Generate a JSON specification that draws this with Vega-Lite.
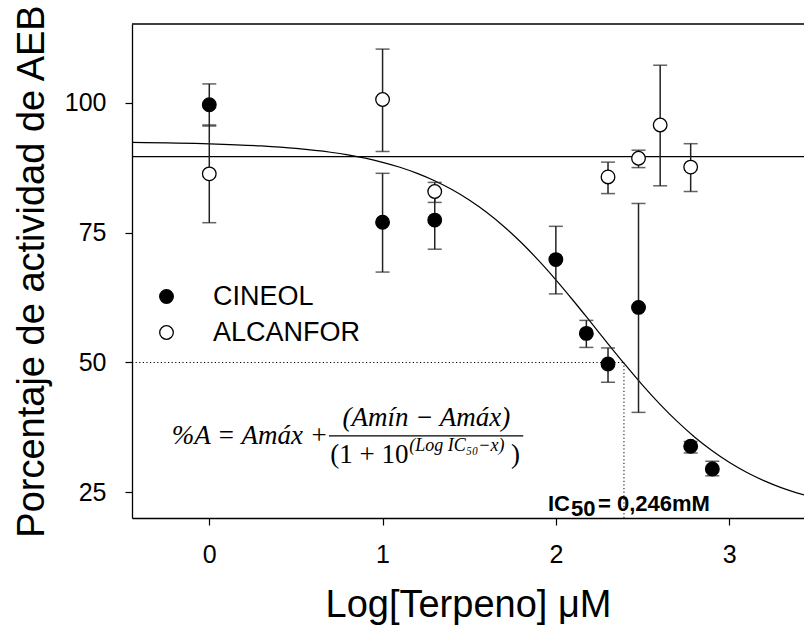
{
  "$schema": "https://vega.github.io/schema/vega-lite/v6.json",
  "width": 672,
  "height": 494,
  "autosize": {"type": "none"},
  "padding": {"left": 132, "top": 24, "right": 0, "bottom": 112},
  "background": "white",
  "config": {
    "view": {"stroke": null},
    "axis": {"titleFont": "Liberation Sans", "titleFontSize": 38, "titleFontWeight": "normal", "titleColor": "black",
             "labelFont": "Liberation Sans", "labelFontSize": 25, "labelColor": "black", "labelFlush": false,
             "tickSize": 7, "tickColor": "black", "tickWidth": 1.2, "domainColor": "black", "domainWidth": 1.3, "grid": false},
    "axisX": {"titlePadding": 19, "labelPadding": 17},
    "axisY": {"titlePadding": 13, "labelPadding": 19}
  },
  "datasets": {
    "pts": [
      {"x": 0, "y": 99.6, "lo": 95.5, "hi": 103.6, "series": "CINEOL"},
      {"x": 1, "y": 77.0, "lo": 67.4, "hi": 86.4, "series": "CINEOL"},
      {"x": 1.301, "y": 77.4, "lo": 71.8, "hi": 83.0, "series": "CINEOL"},
      {"x": 2, "y": 69.8, "lo": 63.2, "hi": 76.2, "series": "CINEOL"},
      {"x": 2.176, "y": 55.6, "lo": 52.9, "hi": 58.1, "series": "CINEOL"},
      {"x": 2.301, "y": 49.7, "lo": 46.2, "hi": 52.8, "series": "CINEOL"},
      {"x": 2.477, "y": 60.6, "lo": 40.4, "hi": 80.6, "series": "CINEOL"},
      {"x": 2.778, "y": 33.9, "lo": 32.6, "hi": 34.8, "series": "CINEOL"},
      {"x": 2.903, "y": 29.5, "lo": 28.2, "hi": 31.0, "series": "CINEOL"},
      {"x": 0, "y": 86.3, "lo": 76.9, "hi": 95.7, "series": "ALCANFOR"},
      {"x": 1, "y": 100.6, "lo": 90.6, "hi": 110.3, "series": "ALCANFOR"},
      {"x": 1.301, "y": 82.9, "lo": 80.8, "hi": 84.65, "series": "ALCANFOR"},
      {"x": 2.301, "y": 85.7, "lo": 82.5, "hi": 88.55, "series": "ALCANFOR"},
      {"x": 2.477, "y": 89.3, "lo": 87.5, "hi": 90.85, "series": "ALCANFOR"},
      {"x": 2.602, "y": 95.7, "lo": 84.0, "hi": 107.2, "series": "ALCANFOR"},
      {"x": 2.778, "y": 87.6, "lo": 82.9, "hi": 92.1, "series": "ALCANFOR"}
    ],
    "curve": [
      {"x": -0.446, "y": 92.35}, {"x": 0, "y": 92.08}, {"x": 0.3, "y": 91.67},
      {"x": 0.5, "y": 91.19}, {"x": 0.7, "y": 90.45}, {"x": 0.8, "y": 89.94},
      {"x": 0.9, "y": 89.31}, {"x": 1.0, "y": 88.52}, {"x": 1.1, "y": 87.57},
      {"x": 1.2, "y": 86.39}, {"x": 1.3, "y": 84.98}, {"x": 1.4, "y": 83.28},
      {"x": 1.5, "y": 81.26}, {"x": 1.6, "y": 78.90}, {"x": 1.7, "y": 76.17},
      {"x": 1.8, "y": 73.08}, {"x": 1.9, "y": 69.64}, {"x": 2.0, "y": 65.90},
      {"x": 2.1, "y": 61.93}, {"x": 2.2, "y": 57.81}, {"x": 2.3, "y": 53.65},
      {"x": 2.4, "y": 49.57}, {"x": 2.5, "y": 45.64}, {"x": 2.6, "y": 41.99},
      {"x": 2.7, "y": 38.66}, {"x": 2.8, "y": 35.67}, {"x": 2.9, "y": 33.06},
      {"x": 3.0, "y": 30.80}, {"x": 3.1, "y": 28.88}, {"x": 3.2, "y": 27.27},
      {"x": 3.3, "y": 25.93}, {"x": 3.432, "y": 24.52}
    ],
    "dotted": [
      {"x": -0.446, "x2": 2.393, "y": 50, "y2": 50},
      {"x": 2.393, "x2": 2.393, "y": 20.08, "y2": 50}
    ]
  },
  "layer": [
    {
      "data": {"values": [{"x": -0.446, "y": 89.6}, {"x": -0.446, "y": 115.13}]},
      "mark": {"type": "rule", "color": "black", "strokeWidth": 1.3},
      "encoding": {
        "y": {"field": "y", "type": "quantitative",
              "scale": {"domain": [20.08, 115.13], "nice": false, "zero": false},
              "axis": {"values": [25, 50, 75, 100], "title": "Porcentaje de actividad de AEB"}}
      }
    },
    {
      "data": {"name": "curve"},
      "mark": {"type": "line", "color": "black", "strokeWidth": 1.2, "interpolate": "monotone"},
      "encoding": {
        "x": {"field": "x", "type": "quantitative",
              "scale": {"domain": [-0.446, 3.432], "nice": false, "zero": false},
              "axis": {"values": [0, 1, 2, 3], "title": "Log[Terpeno] μM"}},
        "y": {"field": "y", "type": "quantitative", "axis": {"values": [25, 50, 75, 100], "title": "Porcentaje de actividad de AEB"}}
      }
    },
    {
      "data": {"name": "dotted"},
      "mark": {"type": "rule", "color": "black", "strokeWidth": 1, "strokeDash": [1.2, 2.4]},
      "encoding": {
        "x": {"field": "x", "type": "quantitative", "axis": {"values": [0, 1, 2, 3], "title": "Log[Terpeno] μM"}},
        "x2": {"field": "x2"},
        "y": {"field": "y", "type": "quantitative", "axis": {"values": [25, 50, 75, 100], "title": "Porcentaje de actividad de AEB"}},
        "y2": {"field": "y2"}
      }
    },
    {
      "data": {"name": "pts"},
      "mark": {"type": "rule", "color": "#222", "strokeWidth": 1.5},
      "encoding": {
        "x": {"field": "x", "type": "quantitative", "axis": {"values": [0, 1, 2, 3], "title": "Log[Terpeno] μM"}},
        "y": {"field": "lo", "type": "quantitative", "axis": {"values": [25, 50, 75, 100], "title": "Porcentaje de actividad de AEB"}},
        "y2": {"field": "hi"}
      }
    },
    {
      "data": {"name": "pts"},
      "mark": {"type": "tick", "orient": "horizontal", "color": "#222", "size": 14, "thickness": 1.5},
      "encoding": {
        "x": {"field": "x", "type": "quantitative", "axis": {"values": [0, 1, 2, 3], "title": "Log[Terpeno] μM"}},
        "y": {"field": "lo", "type": "quantitative", "axis": {"values": [25, 50, 75, 100], "title": "Porcentaje de actividad de AEB"}}
      }
    },
    {
      "data": {"name": "pts"},
      "mark": {"type": "tick", "orient": "horizontal", "color": "#222", "size": 14, "thickness": 1.5},
      "encoding": {
        "x": {"field": "x", "type": "quantitative", "axis": {"values": [0, 1, 2, 3], "title": "Log[Terpeno] μM"}},
        "y": {"field": "hi", "type": "quantitative", "axis": {"values": [25, 50, 75, 100], "title": "Porcentaje de actividad de AEB"}}
      }
    },
    {
      "data": {"name": "pts"},
      "mark": {"type": "point", "shape": "circle", "filled": true, "size": 185, "stroke": "black", "strokeWidth": 1.3, "opacity": 1},
      "encoding": {
        "x": {"field": "x", "type": "quantitative", "axis": {"values": [0, 1, 2, 3], "title": "Log[Terpeno] μM"}},
        "y": {"field": "y", "type": "quantitative", "axis": {"values": [25, 50, 75, 100], "title": "Porcentaje de actividad de AEB"}},
        "fill": {"field": "series", "type": "nominal",
                 "scale": {"domain": ["CINEOL", "ALCANFOR"], "range": ["black", "white"]},
                 "legend": {"title": null, "orient": "none", "legendX": 21, "legendY": 259, "padding": 0,
                            "labelFont": "Liberation Sans", "labelFontSize": 27, "labelColor": "black", "labelOffset": 33,
                            "symbolType": "circle", "symbolSize": 185, "symbolStrokeColor": "black", "symbolStrokeWidth": 1.3,
                            "rowPadding": 8}}
      }
    },
    {
      "data": {"values": [{"x": 0.691, "x2": 1.812, "y": 35.90}]},
      "mark": {"type": "rule", "color": "black", "strokeWidth": 1.2},
      "encoding": {
        "x": {"field": "x", "type": "quantitative", "axis": {"values": [0, 1, 2, 3], "title": "Log[Terpeno] μM"}},
        "x2": {"field": "x2"},
        "y": {"field": "y", "type": "quantitative", "axis": {"values": [25, 50, 75, 100], "title": "Porcentaje de actividad de AEB"}}
      }
    },
    {
      "data": {"values": [{"x": 0.685, "y": 34.37, "label": "%A = Amáx +"}]},
      "mark": {"type": "text", "align": "right", "baseline": "alphabetic", "font": "Liberation Serif", "fontSize": 27, "fontStyle": "italic", "color": "black"},
      "encoding": {
        "x": {"field": "x", "type": "quantitative", "axis": {"values": [0, 1, 2, 3], "title": "Log[Terpeno] μM"}},
        "y": {"field": "y", "type": "quantitative", "axis": {"values": [25, 50, 75, 100], "title": "Porcentaje de actividad de AEB"}},
        "text": {"field": "label"}
      }
    },
    {
      "data": {"values": [{"x": 1.253, "y": 37.69, "label": "(Amín − Amáx)"}]},
      "mark": {"type": "text", "align": "center", "baseline": "alphabetic", "font": "Liberation Serif", "fontSize": 27, "fontStyle": "italic", "color": "black"},
      "encoding": {
        "x": {"field": "x", "type": "quantitative", "axis": {"values": [0, 1, 2, 3], "title": "Log[Terpeno] μM"}},
        "y": {"field": "y", "type": "quantitative", "axis": {"values": [25, 50, 75, 100], "title": "Porcentaje de actividad de AEB"}},
        "text": {"field": "label"}
      }
    },
    {
      "data": {"values": [{"x": 0.698, "y": 30.65, "label": "(1 + 10"}, {"x": 1.741, "y": 30.65, "label": ")"}]},
      "mark": {"type": "text", "align": "left", "baseline": "alphabetic", "font": "Liberation Serif", "fontSize": 27, "color": "black"},
      "encoding": {
        "x": {"field": "x", "type": "quantitative", "axis": {"values": [0, 1, 2, 3], "title": "Log[Terpeno] μM"}},
        "y": {"field": "y", "type": "quantitative", "axis": {"values": [25, 50, 75, 100], "title": "Porcentaje de actividad de AEB"}},
        "text": {"field": "label"}
      }
    },
    {
      "data": {"values": [{"x": 1.154, "y": 33.02, "label": "(Log IC₅₀−x)"}]},
      "mark": {"type": "text", "align": "left", "baseline": "alphabetic", "font": "Liberation Serif", "fontSize": 18, "fontStyle": "italic", "color": "black"},
      "encoding": {
        "x": {"field": "x", "type": "quantitative", "axis": {"values": [0, 1, 2, 3], "title": "Log[Terpeno] μM"}},
        "y": {"field": "y", "type": "quantitative", "axis": {"values": [25, 50, 75, 100], "title": "Porcentaje de actividad de AEB"}},
        "text": {"field": "label"}
      }
    },
    {
      "data": {"values": [{"x": 1.954, "y": 21.48, "label": "IC"}, {"x": 2.087, "y": 20.52, "label": "50"}, {"x": 2.243, "y": 21.48, "label": "= 0,246mM"}]},
      "mark": {"type": "text", "align": "left", "baseline": "alphabetic", "font": "Liberation Sans", "fontSize": 22, "fontWeight": "bold", "color": "black"},
      "encoding": {
        "x": {"field": "x", "type": "quantitative", "axis": {"values": [0, 1, 2, 3], "title": "Log[Terpeno] μM"}},
        "y": {"field": "y", "type": "quantitative", "axis": {"values": [25, 50, 75, 100], "title": "Porcentaje de actividad de AEB"}},
        "text": {"field": "label"}
      }
    }
  ]
}
